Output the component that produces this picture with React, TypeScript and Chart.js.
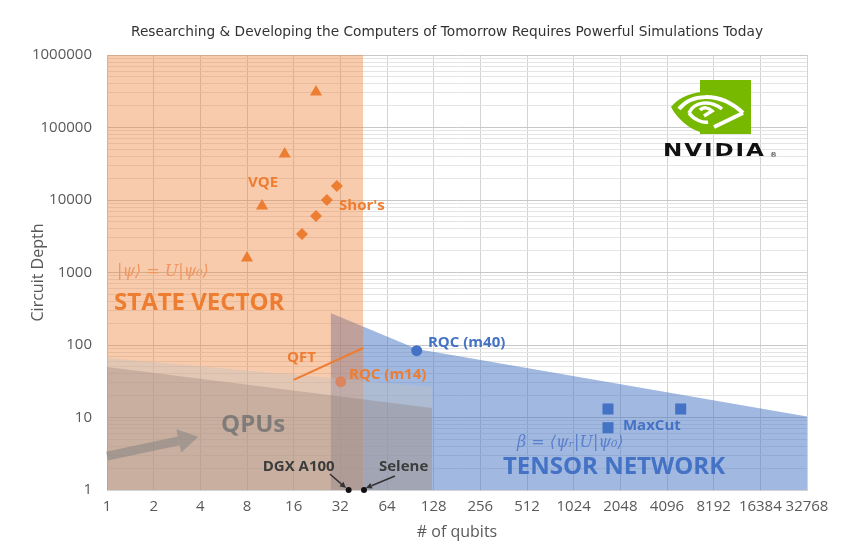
import { useEffect, useRef } from 'react';
import { Chart, registerables } from 'chart.js';

Chart.register(...registerables);

// ---------- data ----------
const TITLE = 'Researching & Developing the Computers of Tomorrow Requires Powerful Simulations Today';
const qubitTicks = [1, 2, 4, 8, 16, 32, 64, 128, 256, 512, 1024, 2048, 4096, 8192, 16384, 32768];
const qubitTickLabels = ['1', '2', '4', '8', '16', '32', '64', '128', '256', '512', '1024', '2048', '4096', '8192', '16384', '32768'];
const depthDecades = [1, 10, 100, 1000, 10000, 100000, 1000000];
const depthTickLabels = ['1', '10', '100', '1000', '10000', '100000', '1000000'];

const vqeQubits = [8, 10, 14, 22.3];
const vqeDepth = [1585, 8260, 43100, 309000];
const shorQubits = [18.1, 22.3, 26.2, 30.4];
const shorDepth = [3400, 6020, 10000, 15600];
const rqc14Qubits = [32.2];
const rqc14Depth = [31.2];
const rqc40Qubits = [99.5];
const rqc40Depth = [83.4];
const maxcutQubits = [1705, 5020, 1705];
const maxcutDepth = [13.1, 13.1, 7.23];
const hardwareQubits = [36.2, 45.5];
const hardwareDepth = [1, 1];
const qftQubits = [16, 45];
const qftDepth = [33, 91];
const stateVectorQubits = [1, 45];
const stateVectorDepth = [1000000, 1000000];
const tensorQubits = [27.7, 99.9, 32768];
const tensorDepth = [276, 88, 10.3];
const qpuUpperQubits = [1, 125];
const qpuUpperDepth = [66, 26.4];
const qpuLowerQubits = [1, 125];
const qpuLowerDepth = [49.7, 13.5];

// annotations in data units
const ORANGE = '#ED7D31';
const BLUE = '#4472C4';
const labelTexts = ['VQE', "Shor's", '|ψ⟩ = U|ψ₀⟩', 'STATE VECTOR', 'QFT', 'RQC (m14)', 'RQC (m40)', 'MaxCut', 'β = ⟨ψᵣ|U|ψ₀⟩', 'TENSOR NETWORK', 'QPUs', 'DGX A100', 'Selene'];
const labelQubits = [10.15, 31.4, 1.16, 1.11, 14.5, 36.4, 117.6, 2130, 441, 358, 5.44, 10.1, 56.8];
const labelDepth = [17150, 8260, 1016, 383, 66, 38.5, 106.6, 7.63, 4.45, 2.08, 7.9, 2.08, 2.08];
const labelStyles = [
  { font: 'bold 15px "Open Sans"', color: ORANGE, align: 'center' },
  { font: 'bold 15px "Open Sans"', color: ORANGE, align: 'left' },
  { font: 'italic 16px "DejaVu Serif"', color: '#F0965E', align: 'left' },
  { font: 'bold 24px "Open Sans"', color: ORANGE, align: 'left' },
  { font: 'bold 15px "Open Sans"', color: ORANGE, align: 'left' },
  { font: 'bold 15px "Open Sans"', color: ORANGE, align: 'left' },
  { font: 'bold 15px "Open Sans"', color: BLUE, align: 'left' },
  { font: 'bold 15px "Open Sans"', color: BLUE, align: 'left' },
  { font: 'italic 16px "DejaVu Serif"', color: '#5A7FCC', align: 'left' },
  { font: 'bold 24px "Open Sans"', color: BLUE, align: 'left' },
  { font: 'bold 24px "Open Sans"', color: 'rgba(115,115,115,0.85)', align: 'left' },
  { font: 'bold 15px "Open Sans"', color: '#3c3c3c', align: 'left' },
  { font: 'bold 15px "Open Sans"', color: '#3c3c3c', align: 'left' },
];

// arrows: [fromQubits, fromDepth, toQubits, toDepth]
const qpuArrow = [1, 2.94, 3.88, 5.43];
const dgxArrow = [27.4, 1.66, 34.8, 1.066];
const seleneArrow = [72, 1.56, 46.8, 1.066];

const pts = (xs: number[], ys: number[]) => xs.map((x, i) => ({ x, y: ys[i] }));
const isDecade = (v: number) => {
  const l = Math.log10(v);
  return Math.abs(l - Math.round(l)) < 1e-9;
};

function drawArrow(ctx: CanvasRenderingContext2D, x1: number, y1: number, x2: number, y2: number, width: number, headLen: number, headW: number, color: string) {
  const ang = Math.atan2(y2 - y1, x2 - x1);
  const bx = x2 - Math.cos(ang) * headLen;
  const by = y2 - Math.sin(ang) * headLen;
  ctx.save();
  ctx.strokeStyle = color;
  ctx.fillStyle = color;
  ctx.lineWidth = width;
  ctx.beginPath();
  ctx.moveTo(x1, y1);
  ctx.lineTo(bx, by);
  ctx.stroke();
  ctx.beginPath();
  ctx.moveTo(x2, y2);
  ctx.lineTo(bx + Math.sin(ang) * headW / 2, by - Math.cos(ang) * headW / 2);
  ctx.lineTo(bx - Math.sin(ang) * headW / 2, by + Math.cos(ang) * headW / 2);
  ctx.closePath();
  ctx.fill();
  ctx.restore();
}

function drawLogo(ctx: CanvasRenderingContext2D, ox: number, oy: number) {
  const G = '#76B900';
  ctx.save();
  ctx.translate(ox, oy);
  ctx.fillStyle = G;
  ctx.fillRect(30, 0, 51, 54);
  // outer eye (left part)
  ctx.beginPath();
  ctx.moveTo(30, 12);
  ctx.bezierCurveTo(18, 14, 7, 19, 1, 27);
  ctx.bezierCurveTo(8, 40, 20, 49, 30, 52);
  ctx.closePath();
  ctx.fill();
  // white outer arc
  ctx.strokeStyle = '#fff';
  ctx.lineWidth = 4;
  ctx.lineCap = 'butt';
  ctx.beginPath();
  ctx.moveTo(9, 29);
  ctx.bezierCurveTo(20, 15, 48, 10, 73, 33);
  ctx.stroke();
  ctx.beginPath();
  ctx.moveTo(73, 33);
  ctx.lineTo(44, 47);
  ctx.stroke();
  // inner white arc
  ctx.lineWidth = 3.5;
  ctx.beginPath();
  ctx.moveTo(19, 33);
  ctx.bezierCurveTo(24, 22, 40, 19, 52, 29);
  ctx.stroke();
  ctx.beginPath();
  ctx.moveTo(19, 33);
  ctx.bezierCurveTo(24, 40, 33, 43, 38, 42);
  ctx.stroke();
  ctx.beginPath();
  ctx.moveTo(30, 30);
  ctx.bezierCurveTo(33, 27, 38, 27, 42, 31);
  ctx.lineTo(34, 36);
  ctx.stroke();
  // wordmark
  ctx.fillStyle = '#111';
  ctx.font = 'bold 18px "DejaVu Sans"';
  ctx.textBaseline = 'alphabetic';
  ctx.textAlign = 'left';
  ctx.save();
  ctx.translate(-7, 76);
  ctx.scale(1.28, 1);
  (ctx as any).letterSpacing = '1.5px';
  ctx.fillText('NVIDIA', 0, 0);
  ctx.restore();
  ctx.font = '7px "DejaVu Sans"';
  ctx.fillText('®', 100, 77);
  ctx.restore();
}

const overlayPlugin = {
  id: 'overlay',
  afterDatasetsDraw(chart: any) {
    const { ctx, scales } = chart;
    const xs = scales.x;
    const ys = scales.y;
    const px = (v: number) => xs.getPixelForValue(v);
    const py = (v: number) => ys.getPixelForValue(v);
    ctx.save();
    drawArrow(ctx, px(qpuArrow[0]), py(qpuArrow[1]), px(qpuArrow[2]), py(qpuArrow[3]), 9, 20, 24, 'rgba(128,128,128,0.5)');
    drawArrow(ctx, px(dgxArrow[0]), py(dgxArrow[1]), px(dgxArrow[2]), py(dgxArrow[3]), 1.5, 6, 6, '#333');
    drawArrow(ctx, px(seleneArrow[0]), py(seleneArrow[1]), px(seleneArrow[2]), py(seleneArrow[3]), 1.5, 6, 6, '#333');
    ctx.textBaseline = 'middle';
    labelTexts.forEach((t, i) => {
      const s = labelStyles[i];
      ctx.font = s.font;
      ctx.fillStyle = s.color;
      ctx.textAlign = s.align;
      ctx.fillText(t, px(labelQubits[i]), py(labelDepth[i]));
    });
    ctx.restore();
  },
  afterDraw(chart: any) {
    const { ctx, chartArea } = chart;
    ctx.save();
    ctx.font = '13.8px "DejaVu Sans"';
    ctx.fillStyle = '#333';
    ctx.textAlign = 'center';
    ctx.textBaseline = 'middle';
    ctx.fillText(TITLE, 447, 32, 632);
    drawLogo(ctx, chartArea.right - 137, chartArea.top + 25);
    ctx.restore();
  },
};

export default function App() {
  const ref = useRef<HTMLCanvasElement | null>(null);
  useEffect(() => {
    if (!ref.current) return;
    const tickFont = { family: '"Open Sans"', size: 15 };
    const yTickValues: number[] = [];
    for (let k = 0; k < 6; k++) for (let m = 1; m <= 9; m++) yTickValues.push(m * Math.pow(10, k));
    yTickValues.push(1000000);
    const poly = (data: any, color: string, order: number) => ({
      type: 'line', data, backgroundColor: color, borderColor: 'transparent', borderWidth: 0,
      pointRadius: 0, fill: 'start', order, tension: 0,
    });
    const chart = new Chart(ref.current, {
      type: 'scatter',
      data: {
        datasets: [
          poly(pts(tensorQubits, tensorDepth), 'rgba(68,114,196,0.5)', 20),
          poly(pts(stateVectorQubits, stateVectorDepth), 'rgba(237,125,49,0.4)', 19),
          poly(pts(qpuUpperQubits, qpuUpperDepth), 'rgba(192,192,192,0.4)', 17),
          { type: 'scatter', data: pts(rqc14Qubits, rqc14Depth), pointStyle: 'circle', pointRadius: 5.5, backgroundColor: 'rgba(222,128,85,0.85)', borderWidth: 0, order: 16.5 },
          poly(pts(qpuLowerQubits, qpuLowerDepth), 'rgba(140,118,108,0.3)', 16),
          { type: 'line', data: pts(qftQubits, qftDepth), borderColor: ORANGE, borderWidth: 2, pointRadius: 0, fill: false, order: 10 },
          { type: 'scatter', data: pts(vqeQubits, vqeDepth), pointStyle: 'triangle', pointRadius: 7, backgroundColor: ORANGE, borderColor: ORANGE, borderWidth: 0, order: 5 },
          { type: 'scatter', data: pts(shorQubits, shorDepth), pointStyle: 'rectRot', pointRadius: 6, backgroundColor: ORANGE, borderWidth: 0, order: 5 },
          { type: 'scatter', data: pts(rqc40Qubits, rqc40Depth), pointStyle: 'circle', pointRadius: 5.5, backgroundColor: BLUE, borderWidth: 0, order: 5 },
          { type: 'scatter', data: pts(maxcutQubits, maxcutDepth), pointStyle: 'rect', pointRadius: 7.8, backgroundColor: BLUE, borderWidth: 0, order: 5 },
          { type: 'scatter', data: pts(hardwareQubits, hardwareDepth), pointStyle: 'circle', pointRadius: 3, backgroundColor: '#111', borderWidth: 0, order: 4, clip: false },
        ] as any,
      },
      options: {
        animation: false,
        responsive: false,
        devicePixelRatio: 1,
        layout: { padding: { top: 55, right: 43, left: 0, bottom: 0 } },
        plugins: { legend: { display: false }, tooltip: { enabled: false }, title: { display: false } },
        scales: {
          x: {
            type: 'logarithmic', min: 1, max: 32768, position: 'bottom',
            afterBuildTicks: (s: any) => { s.ticks = qubitTicks.map((v) => ({ value: v })); },
            afterFit: (s: any) => { s.height = 65; },
            ticks: {
              autoSkip: false, maxRotation: 0, minRotation: 0, padding: 8, color: '#595959', font: tickFont,
              callback: (v: any) => { const i = qubitTicks.indexOf(Number(v)); return i >= 0 ? qubitTickLabels[i] : ''; },
            },
            grid: { color: '#d3d3d3', drawTicks: false },
            border: { display: true, color: '#d3d3d3' },
            title: { display: true, text: '# of qubits', color: '#595959', font: { family: '"Open Sans"', size: 16 }, padding: { top: 13, bottom: 13 } },
          },
          y: {
            type: 'logarithmic', min: 1, max: 1000000,
            afterBuildTicks: (s: any) => { s.ticks = yTickValues.map((v) => ({ value: v })); },
            afterFit: (s: any) => { s.width = 107; },
            ticks: {
              autoSkip: false, padding: 15, color: '#595959', font: tickFont,
              callback: (v: any) => { const i = depthDecades.findIndex((d) => Math.abs(d - Number(v)) < 1e-6 * d); return i >= 0 ? depthTickLabels[i] : ''; },
            },
            grid: { color: (c: any) => (c.tick && isDecade(c.tick.value) ? '#c8c8c8' : '#e4e4e4'), drawTicks: false },
            border: { display: true, color: '#d3d3d3' },
            title: { display: true, text: 'Circuit Depth', color: '#595959', font: { family: '"Open Sans"', size: 16 }, padding: { top: 29, bottom: 29 } },
          },
        },
      } as any,
      plugins: [overlayPlugin],
    });
    return () => chart.destroy();
  }, []);
  return (
    <div style={{ position: 'fixed', left: 0, top: 0, width: 850, height: 555, background: '#fff' }}>
      <canvas ref={ref} width={850} height={555} />
    </div>
  );
}
